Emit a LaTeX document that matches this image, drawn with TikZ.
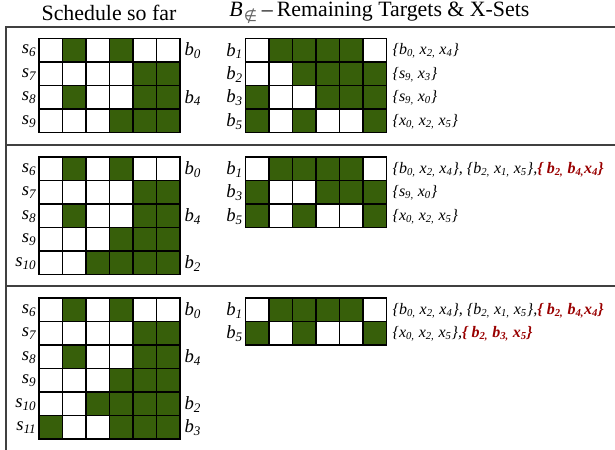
\documentclass[tikz,border=0pt]{standalone}
\usepackage{fontspec}
\setmainfont{Liberation Serif}
\newfontfamily\symfont{DejaVu Sans}
\definecolor{cell0}{rgb}{1,1,1}
\definecolor{cell1}{RGB}{55,95,10}
\definecolor{setred}{RGB}{153,0,0}
\newcommand{\ix}[1]{\textsubscript{#1}}
\newcommand{\cw}{23.5}
% one row of the schedule / target grids: left x, top y, pattern
\newcommand{\cellrow}[3]{%
  \foreach \f [count=\c from 0] in {#3}
    \draw [cell, fill=cell\f] ({#1+\c*\cw},#2) rectangle ++(\cw,\cw);
}
\tikzset{
  cell/.style={draw=black, line width=1.1pt},
  frameline/.style={draw=black!75, line width=0.9pt},
  headtext/.style={font=\fontsize{16.4}{19}\selectfont, inner sep=0pt},
  rowlabel/.style={font=\fontsize{14}{16}\selectfont\itshape, inner sep=1pt},
  settext/.style={font=\fontsize{12}{14}\selectfont\itshape, inner sep=1pt, anchor=west},
}
\begin{document}
\begin{tikzpicture}[x=0.75pt,y=0.75pt,yscale=-1,xscale=1]
\useasboundingbox (0,0) rectangle (615,450);

% frame and panel separators
\draw [frameline] (615,27) -- (6,27) -- (6,450) ;
\draw [frameline] (6,145) -- (615,145) ;
\draw [frameline] (6,286) -- (615,286) ;

% Text Node
\node [headtext] (head1) at (109,13) {Schedule so far};
% Text Node
\node [headtext, anchor=west] (head2) at (229,13) {\textit{B}\kern1pt\ix{\symfont\color{black!60}∉}\kern3pt\textendash\kern3pt Remaining Targets \& X-Sets};

%Panel 1: schedule grid
\cellrow{39}{38.5}{0,1,0,1,0,0}
\cellrow{39}{62}{0,0,0,0,1,1}
\cellrow{39}{85.5}{0,1,0,0,1,1}
\cellrow{39}{109}{0,0,0,1,1,1}
%Panel 1: target grid
\cellrow{245.5}{38.5}{0,1,1,1,1,0}
\cellrow{245.5}{62}{0,0,1,1,1,1}
\cellrow{245.5}{85.5}{1,0,0,1,1,1}
\cellrow{245.5}{109}{1,0,1,0,0,1}

% Text Node
\node [rowlabel, anchor=east] (pa s6) at (38,51) {s\ix{6}};
\node [rowlabel, anchor=east] (pa s7) at (38,74.5) {s\ix{7}};
\node [rowlabel, anchor=east] (pa s8) at (38,98) {s\ix{8}};
\node [rowlabel, anchor=east] (pa s9) at (38,121.5) {s\ix{9}};
% Text Node
\node [rowlabel, anchor=west] (pa b0) at (183,51) {b\ix{0}};
\node [rowlabel, anchor=west] (pa b4) at (183,98) {b\ix{4}};
% Text Node
\node [rowlabel, anchor=east] (pa b1) at (244.5,51) {b\ix{1}};
\node [rowlabel, anchor=east] (pa b2) at (244.5,74.5) {b\ix{2}};
\node [rowlabel, anchor=east] (pa b3) at (244.5,98) {b\ix{3}};
\node [rowlabel, anchor=east] (pa b5) at (244.5,121.5) {b\ix{5}};
% Text Node
\node [settext] (pa x1) at (391,51) {\{b\ix{0,} x\ix{2,} x\ix{4}\}};
\node [settext] (pa x2) at (391,74.5) {\{s\ix{9,} x\ix{3}\}};
\node [settext] (pa x3) at (391,98) {\{s\ix{9,} x\ix{0}\}};
\node [settext] (pa x5) at (391,121.5) {\{x\ix{0,} x\ix{2,} x\ix{5}\}};

%Panel 2: schedule grid
\cellrow{39}{157}{0,1,0,1,0,0}
\cellrow{39}{180.5}{0,0,0,0,1,1}
\cellrow{39}{204}{0,1,0,0,1,1}
\cellrow{39}{227.5}{0,0,0,1,1,1}
\cellrow{39}{251}{0,0,1,1,1,1}
%Panel 2: target grid
\cellrow{245.5}{157}{0,1,1,1,1,0}
\cellrow{245.5}{180.5}{1,0,0,1,1,1}
\cellrow{245.5}{204}{1,0,1,0,0,1}

% Text Node
\node [rowlabel, anchor=east] (pb s6) at (38,169.5) {s\ix{6}};
\node [rowlabel, anchor=east] (pb s7) at (38,193) {s\ix{7}};
\node [rowlabel, anchor=east] (pb s8) at (38,216.5) {s\ix{8}};
\node [rowlabel, anchor=east] (pb s9) at (38,240) {s\ix{9}};
\node [rowlabel, anchor=east] (pb s10) at (38,263.5) {s\ix{10}};
% Text Node
\node [rowlabel, anchor=west] (pb b0) at (183,169.5) {b\ix{0}};
\node [rowlabel, anchor=west] (pb b4) at (183,216.5) {b\ix{4}};
\node [rowlabel, anchor=west] (pb b2) at (183,263.5) {b\ix{2}};
% Text Node
\node [rowlabel, anchor=east] (pb b1) at (244.5,169.5) {b\ix{1}};
\node [rowlabel, anchor=east] (pb b3) at (244.5,193) {b\ix{3}};
\node [rowlabel, anchor=east] (pb b5) at (244.5,216.5) {b\ix{5}};
% Text Node
\node [settext] (pb x1) at (391,169.5) {\{b\ix{0,} x\ix{2,} x\ix{4}\}, \{b\ix{2,} x\ix{1,} x\ix{5}\},\textcolor{setred}{\bfseries\{ b\ix{2,} b\ix{4,}x\ix{4}\}}};
\node [settext] (pb x3) at (391,193) {\{s\ix{9,} x\ix{0}\}};
\node [settext] (pb x5) at (391,216.5) {\{x\ix{0,} x\ix{2,} x\ix{5}\}};

%Panel 3: schedule grid
\cellrow{39}{298}{0,1,0,1,0,0}
\cellrow{39}{321.5}{0,0,0,0,1,1}
\cellrow{39}{345}{0,1,0,0,1,1}
\cellrow{39}{368.5}{0,0,0,1,1,1}
\cellrow{39}{392}{0,0,1,1,1,1}
\cellrow{39}{415.5}{1,0,0,1,1,1}
%Panel 3: target grid
\cellrow{245.5}{298}{0,1,1,1,1,0}
\cellrow{245.5}{321.5}{1,0,1,0,0,1}

% Text Node
\node [rowlabel, anchor=east] (pc s6) at (38,310.5) {s\ix{6}};
\node [rowlabel, anchor=east] (pc s7) at (38,334) {s\ix{7}};
\node [rowlabel, anchor=east] (pc s8) at (38,357.5) {s\ix{8}};
\node [rowlabel, anchor=east] (pc s9) at (38,381) {s\ix{9}};
\node [rowlabel, anchor=east] (pc s10) at (38,404.5) {s\ix{10}};
\node [rowlabel, anchor=east] (pc s11) at (38,428) {s\ix{11}};
% Text Node
\node [rowlabel, anchor=west] (pc b0) at (183,310.5) {b\ix{0}};
\node [rowlabel, anchor=west] (pc b4) at (183,357.5) {b\ix{4}};
\node [rowlabel, anchor=west] (pc b2) at (183,404.5) {b\ix{2}};
\node [rowlabel, anchor=west] (pc b3) at (183,428) {b\ix{3}};
% Text Node
\node [rowlabel, anchor=east] (pc b1) at (244.5,310.5) {b\ix{1}};
\node [rowlabel, anchor=east] (pc b5) at (244.5,334) {b\ix{5}};
% Text Node
\node [settext] (pc x1) at (391,310.5) {\{b\ix{0,} x\ix{2,} x\ix{4}\}, \{b\ix{2,} x\ix{1,} x\ix{5}\},\textcolor{setred}{\bfseries\{ b\ix{2,} b\ix{4,}x\ix{4}\}}};
\node [settext] (pc x5) at (391,334) {\{x\ix{0,} x\ix{2,} x\ix{5}\},\textcolor{setred}{\bfseries\{ b\ix{2,} b\ix{3,} x\ix{5}\}}};

\end{tikzpicture}
\end{document}
